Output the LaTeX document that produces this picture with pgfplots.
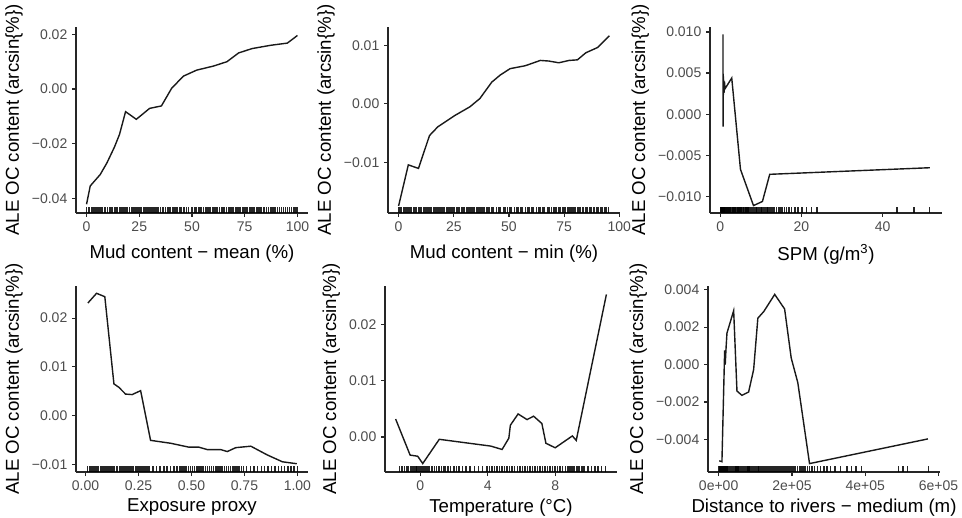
\documentclass[border=0pt]{standalone}
\usepackage{fontspec}
\setmainfont{Liberation Sans}
\usepackage{pgfplots}
\pgfplotsset{compat=1.18}
\pgfplotsset{
 panel/.style={
  scale only axis, width=174pt, height=139.5pt,
  axis lines=left, axis line style={-, line width=0.9pt, black!85},
  tick align=outside, major tick length=3pt, tick style={line width=0.9pt, black!85},
  /pgf/number format/assume math mode=true,
  tick label style={font=\fontsize{10.5}{12}\selectfont, text=black!70},
  label style={font=\fontsize{14}{16}\selectfont, text=black},
  ylabel={ALE OC content (arcsin\{\%\})},
  scaled ticks=false, clip=false, anchor=south west,
 },
 toprow/.style={xlabel style={yshift=-3pt}},
 botrow/.style={xlabel style={yshift=0.5pt}},
 aleline/.style={line width=1.05pt, black!90, no marks},
 rug/.style={only marks, mark=|, mark size=2.1pt, mark options={yshift=2.1pt, line width=1.1pt, draw opacity=0.85}},
}
\begin{document}
\begin{tikzpicture}
% Panel 1
\begin{axis}[panel, toprow, at={(57pt,228pt)},
  xmin=-5, xmax=105, ymin=-0.0454, ymax=0.0227,
  xtick={0,25,50,75,100},
  ytick={-0.04,-0.02,0,0.02}, yticklabels={−0.04,−0.02,0.00,0.02},
  xlabel={Mud content − mean (\%)}]
\addplot[rug] table[row sep=\\, y expr=-0.0454] {x\\0\\0.8\\1.5\\2.3\\3\\3.8\\4.5\\5.2\\6\\6.9\\7.6\\8.4\\9.1\\10\\10.8\\11.5\\12.3\\13.2\\14\\14.7\\15.5\\16.3\\17.2\\18\\18.8\\19.5\\20.4\\21.2\\22\\22.9\\23.6\\24.5\\25.3\\26\\26.9\\27.7\\28.5\\29.2\\30.1\\31\\31.8\\32.5\\33.4\\34.2\\35\\35.9\\36.6\\37.5\\38.3\\39\\39.9\\40.7\\41.5\\42.4\\43.1\\44\\44.8\\46.2\\47.5\\48.3\\49.9\\51.2\\52\\53\\53.8\\54.6\\55.5\\56.3\\57.2\\58\\58.8\\59.7\\60.5\\61.3\\62.2\\63\\63.9\\64.7\\65.5\\66.4\\67.2\\68\\68.9\\69.7\\70.5\\71.4\\72.2\\73\\73.9\\74.7\\75.5\\76.4\\77.2\\78\\78.9\\79.7\\80.5\\81.4\\82.2\\83\\84.1\\85.3\\86.2\\87.4\\88.5\\89.3\\90.6\\91.4\\92.5\\93.3\\94.4\\95.2\\96.3\\97.1\\98\\98.8\\99.6\\100\\};
\addplot[aleline] coordinates {(0,-0.0422)(1.75,-0.0355)(6.5,-0.0313)(9.7,-0.027)(13.2,-0.0213)(15.6,-0.0167)(18.5,-0.0083)(23.6,-0.0111)(29.9,-0.0071)(35.5,-0.0062)(37.9,-0.0030)(40.3,0.0002)(45.9,0.0047)(52.2,0.0069)(60.2,0.0084)(66.6,0.0100)(72.1,0.0132)(78.5,0.0148)(87.3,0.0160)(95.2,0.0168)(100,0.0196)};
\end{axis}
% Panel 2
\begin{axis}[panel, toprow, at={(291pt,228pt)},
  xmin=-4.8, xmax=100.3, ymin=-0.0186, ymax=0.0131,
  xtick={0,25,50,75,100},
  ytick={-0.01,0,0.01}, yticklabels={−0.01,0.00,0.01},
  xlabel={Mud content − min (\%)}]
\addplot[rug] table[row sep=\\, y expr=-0.0186] {x\\0\\0.7\\1.4\\2.2\\2.9\\3.7\\4.4\\5.2\\5.9\\6.7\\7.4\\8.2\\8.9\\9.7\\10.4\\11.2\\11.9\\12.7\\13.4\\14.2\\14.9\\15.7\\16.4\\17.2\\17.9\\18.7\\19.4\\20.2\\20.9\\21.7\\22.4\\23.2\\23.9\\24.7\\25.4\\26.2\\26.9\\27.7\\28.4\\29.2\\29.9\\30.7\\31.4\\32.2\\32.9\\33.7\\34.4\\35.2\\35.9\\36.7\\37.4\\38.2\\38.9\\39.7\\40.4\\41.2\\42.3\\43.1\\44.3\\45.5\\46.2\\47.4\\48.1\\49.3\\50.5\\51.2\\52.4\\53.6\\54.3\\55.5\\56.2\\57.4\\58.6\\59.3\\60.5\\61.2\\62.4\\63.6\\64.3\\65.5\\66.2\\67.4\\68.1\\69.3\\70.5\\71.2\\72.4\\73.1\\74.3\\75\\75.7\\76.5\\77.2\\78\\78.7\\79.5\\80.2\\81\\81.7\\82.5\\83.6\\84.8\\85.5\\86.7\\87.4\\88.6\\89.8\\90.5\\91.7\\92.4\\93.6\\94.3\\95\\};
\addplot[aleline] coordinates {(0,-0.0174)(4.4,-0.0104)(9.0,-0.0110)(14.0,-0.0054)(17.8,-0.0039)(25.4,-0.0020)(32.3,-0.0005)(36.8,0.0009)(42.2,0.0037)(46.0,0.0049)(50.5,0.0060)(57.4,0.0065)(64.2,0.0074)(68.0,0.0073)(72.6,0.0070)(77.2,0.0074)(81.0,0.0075)(84.8,0.0087)(90.1,0.0096)(95.5,0.0116)};
\end{axis}
% Panel 3
\begin{axis}[panel, toprow, at={(532.5pt,228pt)},
  xmin=-2.5, xmax=54.6, ymin=-0.0120, ymax=0.0106,
  xtick={0,20,40},
  ytick={-0.01,-0.005,0,0.005,0.01}, yticklabels={−0.010,−0.005,0.000,0.005,0.010},
  xlabel={SPM (g/m\textsuperscript{3})}]
\addplot[rug] table[row sep=\\, y expr=-0.0120] {x\\0.1\\0.2\\0.3\\0.4\\0.5\\0.6\\0.7\\0.8\\0.9\\1\\1.1\\1.2\\1.3\\1.5\\1.6\\1.8\\1.9\\2.1\\2.3\\2.4\\2.6\\2.8\\3\\3.2\\3.4\\3.6\\3.8\\4\\4.2\\4.4\\4.6\\4.9\\5.1\\5.3\\5.6\\5.8\\6.1\\6.3\\6.6\\6.9\\7.1\\7.4\\7.7\\8\\8.2\\8.5\\8.8\\9.1\\9.4\\9.7\\10\\10.3\\10.6\\10.9\\11.2\\11.5\\11.8\\12.1\\12.5\\12.9\\13.3\\13.8\\14.3\\14.7\\15.2\\15.8\\16.3\\16.9\\17.6\\18.4\\19.2\\20.1\\21.3\\22.5\\23.8\\43.5\\47.7\\51.5\\};
\addplot[aleline] coordinates {(0.7,0.0097)(0.72,-0.0015)(0.8,0.0046)(0.95,0.0026)(1.05,0.0040)(1.2,0.0031)(2.85,0.0044)(5.0,-0.0067)(8.2,-0.0111)(10.4,-0.0106)(12.2,-0.0073)(51.6,-0.0065)};
\end{axis}
% Panel 4
\begin{axis}[panel, botrow, at={(57pt,33.75pt)},
  xmin=-0.045, xmax=1.05, ymin=-0.0116, ymax=0.0266,
  xtick={0,0.25,0.5,0.75,1}, xticklabels={0.00,0.25,0.50,0.75,1.00},
  ytick={-0.01,0,0.01,0.02}, yticklabels={−0.01,0.00,0.01,0.02},
  xlabel={Exposure proxy}]
\addplot[rug] table[row sep=\\, y expr=-0.0116] {x\\0.010\\0.018\\0.025\\0.032\\0.040\\0.047\\0.055\\0.062\\0.070\\0.077\\0.085\\0.092\\0.100\\0.107\\0.115\\0.122\\0.130\\0.137\\0.145\\0.152\\0.160\\0.167\\0.175\\0.182\\0.190\\0.197\\0.205\\0.212\\0.220\\0.227\\0.235\\0.242\\0.250\\0.257\\0.265\\0.272\\0.280\\0.290\\0.300\\0.318\\0.335\\0.352\\0.370\\0.385\\0.400\\0.418\\0.432\\0.445\\0.455\\0.465\\0.475\\0.485\\0.495\\0.505\\0.515\\0.525\\0.535\\0.545\\0.555\\0.565\\0.575\\0.585\\0.595\\0.605\\0.615\\0.625\\0.635\\0.645\\0.655\\0.665\\0.675\\0.685\\0.695\\0.705\\0.715\\0.725\\0.735\\0.745\\0.760\\0.778\\0.795\\0.812\\0.830\\0.845\\0.862\\0.878\\0.895\\0.910\\0.925\\0.940\\0.955\\0.970\\0.985\\1.0\\};
\addplot[aleline] coordinates {(0.011,0.0231)(0.052,0.0251)(0.091,0.0244)(0.134,0.0065)(0.157,0.0058)(0.189,0.0044)(0.220,0.0043)(0.260,0.0051)(0.307,-0.0051)(0.402,-0.0057)(0.488,-0.0065)(0.535,-0.0065)(0.575,-0.0070)(0.638,-0.0070)(0.669,-0.0074)(0.709,-0.0066)(0.780,-0.0063)(0.858,-0.0081)(0.929,-0.0095)(0.997,-0.0099)};
\end{axis}
% Panel 5
\begin{axis}[panel, botrow, at={(288.75pt,33.75pt)},
  xmin=-2.1, xmax=11.67, ymin=-0.0062, ymax=0.0268,
  xtick={0,4,8},
  ytick={0,0.01,0.02}, yticklabels={0.00,0.01,0.02},
  xlabel={Temperature (°C)}]
\addplot[rug] table[row sep=\\, y expr=-0.0062] {x\\-1.24\\-1.1\\-0.95\\-0.8\\-0.7\\-0.6\\-0.5\\-0.42\\-0.35\\-0.27\\-0.2\\-0.12\\-0.05\\0.02\\0.1\\0.17\\0.25\\0.33\\0.45\\0.55\\0.7\\0.85\\0.95\\1.1\\1.25\\1.4\\1.5\\1.65\\1.8\\2.0\\2.15\\2.3\\2.5\\2.7\\2.95\\3.2\\3.45\\3.7\\3.95\\4.1\\4.25\\4.4\\4.55\\4.7\\4.85\\5.0\\5.15\\5.3\\5.45\\5.6\\5.75\\5.9\\6.05\\6.2\\6.35\\6.5\\6.65\\6.8\\6.95\\7.1\\7.25\\7.4\\7.55\\7.7\\7.85\\8.0\\8.15\\8.3\\8.45\\8.6\\8.75\\8.85\\8.95\\9.05\\9.15\\9.25\\9.35\\9.45\\9.55\\9.65\\9.75\\9.95\\10.15\\10.35\\10.55\\10.75\\11.0\\};
\addplot[aleline] coordinates {(-1.47,0.0032)(-0.61,-0.0032)(-0.16,-0.0034)(0.14,-0.0047)(1.12,-0.0004)(4.17,-0.0016)(4.85,-0.0022)(5.25,-0.0002)(5.34,0.0021)(5.80,0.0041)(6.33,0.0031)(6.72,0.0037)(7.21,0.0024)(7.45,-0.0011)(8.00,-0.0019)(8.68,-0.0005)(9.02,0.0002)(9.25,-0.0006)(11.04,0.0253)};
\end{axis}
% Panel 6
\begin{axis}[panel, botrow, at={(531pt,33.75pt)},
  xmin=-0.29, xmax=6.04, ymin=-0.00575, ymax=0.0042,
  xtick={0,2,4,6}, xticklabels={0e+00,2e+05,4e+05,6e+05},
  ytick={-0.004,-0.002,0,0.002,0.004}, yticklabels={−0.004,−0.002,0.000,0.002,0.004},
  xlabel={Distance to rivers − medium (m)}]
\addplot[rug] table[row sep=\\, y expr=-0.00575] {x\\0.0\\0.02\\0.04\\0.06\\0.08\\0.1\\0.12\\0.14\\0.16\\0.18\\0.2\\0.23\\0.26\\0.29\\0.32\\0.35\\0.38\\0.41\\0.44\\0.47\\0.5\\0.53\\0.56\\0.59\\0.62\\0.65\\0.68\\0.71\\0.74\\0.77\\0.8\\0.83\\0.86\\0.89\\0.92\\0.95\\0.98\\1.01\\1.04\\1.07\\1.1\\1.14\\1.18\\1.22\\1.26\\1.3\\1.34\\1.38\\1.42\\1.46\\1.5\\1.54\\1.58\\1.62\\1.66\\1.7\\1.74\\1.78\\1.82\\1.86\\1.9\\1.94\\1.98\\2.02\\2.06\\2.1\\2.15\\2.2\\2.25\\2.3\\2.36\\2.42\\2.48\\2.55\\2.62\\2.7\\2.78\\2.87\\2.96\\3.05\\3.18\\3.32\\3.5\\3.62\\3.75\\3.9\\4.91\\5.03\\5.15\\5.73\\};
\addplot[aleline] coordinates {(0.018,-0.00515)(0.09,-0.0052)(0.164,0.00076)(0.18,0.0000)(0.2,0.0008)(0.227,0.00168)(0.41,0.00288)(0.5,-0.00142)(0.636,-0.00165)(0.818,-0.00147)(0.955,-0.00027)(1.07,0.00248)(1.23,0.00283)(1.53,0.00375)(1.8,0.00297)(1.98,0.00035)(2.16,-0.00097)(2.48,-0.0053)(5.71,-0.00398)};
\end{axis}
\pgfresetboundingbox
\useasboundingbox (0,0) rectangle (721.5pt,387.75pt);
\end{tikzpicture}
\end{document}
